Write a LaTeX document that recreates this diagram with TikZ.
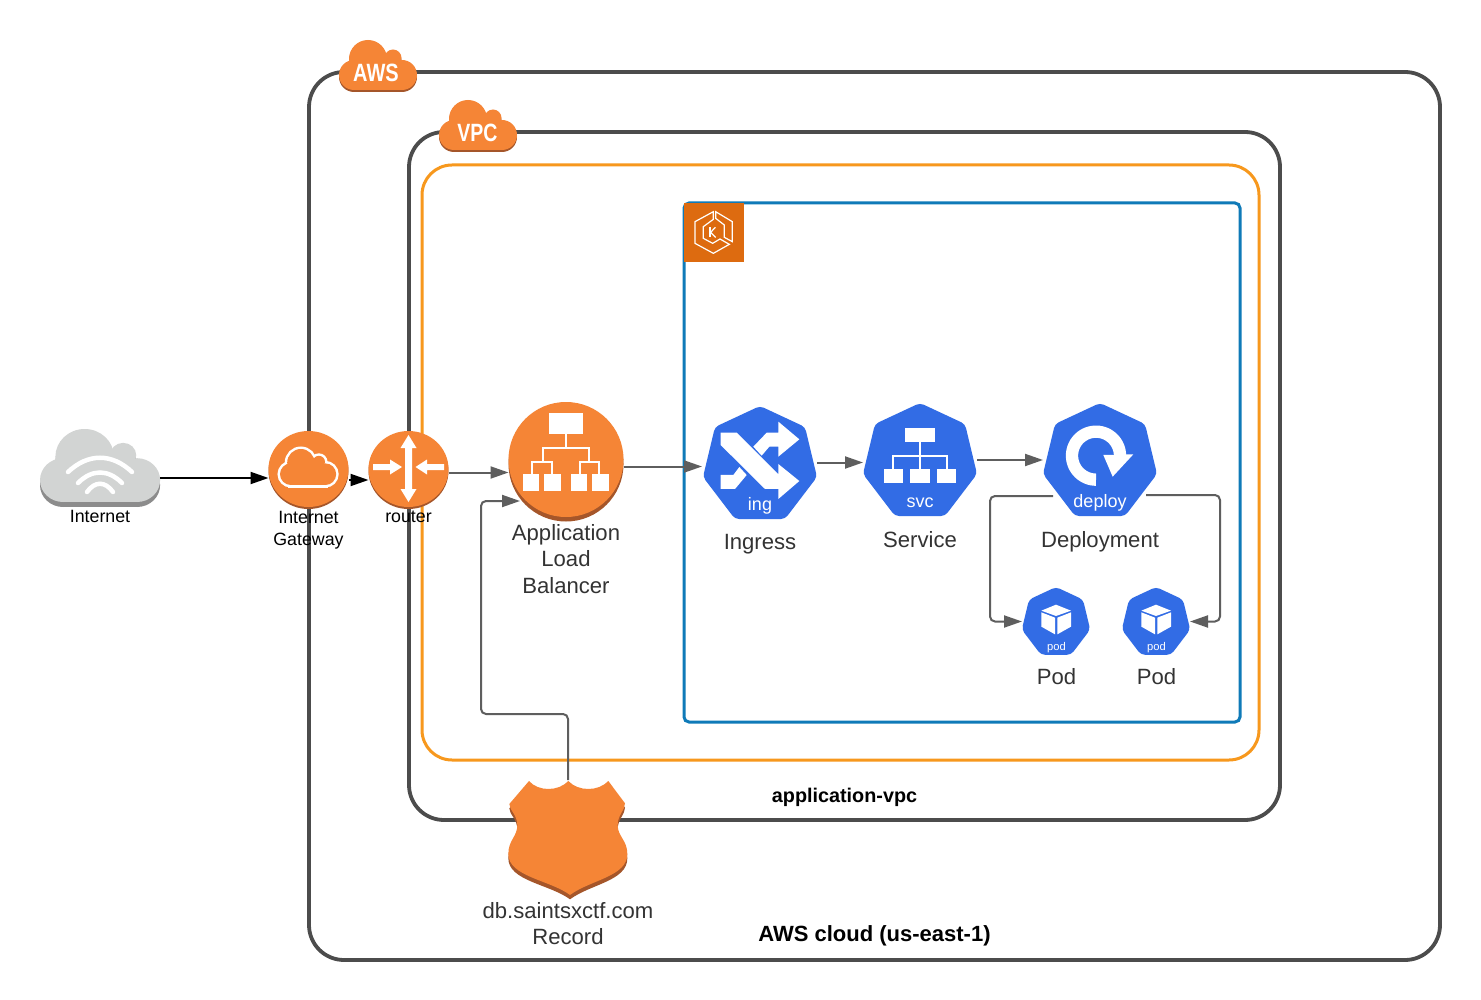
\documentclass[tikz,border=0pt]{standalone}
\usepackage{fontspec}
\usepackage{graphicx}
\setmainfont{Liberation Sans}
\usetikzlibrary{arrows.meta,calc}
\definecolor{frame}{HTML}{4C4C4C}
\definecolor{amber}{HTML}{F7981D}
\definecolor{eksblue}{HTML}{0F7AB8}
\definecolor{eksorange}{HTML}{DD6B10}
\definecolor{awsorange}{HTML}{F58536}
\definecolor{awsshade}{HTML}{A5562A}
\definecolor{kblue}{HTML}{326CE5}
\definecolor{linegray}{HTML}{5E5E5E}
\definecolor{cloudgray}{HTML}{D2D4D3}
\definecolor{cloudshade}{HTML}{8C8C8C}
\definecolor{inktext}{HTML}{333333}
\newcommand\cloudat[4]{\begin{scope}[shift={(#1,#2)},#3]
\fill[#4] (29,19) circle (19);
\fill[#4] (54,18) circle (8.5);
\fill[#4] (63,35) circle (15);
\fill[#4] (15,35) circle (15);
\fill[#4] (15,26) rectangle (63,50);
\fill[#4] (28,14) rectangle (54,30);
\end{scope}}
\newcommand\heptat[3]{\begin{scope}[shift={(#1,#2)},scale=#3]
\fill[kblue,rounded corners=4pt] (0,0) -- (45,21) -- (57,71) -- (25,113) -- (-25,113) -- (-57,71) -- (-45,21) -- cycle;
\end{scope}}
\newcommand\shieldpath{(295,243) .. controls (325,275) and (385,275) .. (415,243) -- (465,310) .. controls (465,330) and (443,345) .. (443,375) .. controls (443,410) and (472,420) .. (472,462) .. controls (472,530) and (360,540) .. (300,585) .. controls (240,540) and (115,530) .. (115,462) .. controls (115,420) and (142,410) .. (142,375) .. controls (142,345) and (118,330) .. (118,312) -- (177,243) .. controls (205,275) and (265,275) .. (295,243) -- cycle}
\newcommand\podicon[1]{\begin{scope}[shift={(#1,570)},scale=1/3]
\fill[white] (184,122) -- (228,104) -- (273,122) -- (228,138) -- cycle;
\fill[white] (184,127) -- (225,143) -- (225,193) -- (184,170) -- cycle;
\fill[white] (232,143) -- (273,127) -- (273,170) -- (232,193) -- cycle;
\end{scope}}
\tikzset{
  x=1pt,y=-1pt,
  box/.style={rounded corners=#1},
  hitbox/.style={inner sep=0pt,outer sep=0pt,minimum width=#1},
  lab/.style={anchor=base,inner sep=0pt,align=center,text=inktext,font=\fontsize{22.1}{26.5}\selectfont},
  smalllab/.style={anchor=base,inner sep=0pt,align=center,text=black,font=\fontsize{17.8}{21.8}\selectfont},
  boldlab/.style={anchor=base,inner sep=0pt,text=black,font=\fontsize{#1}{#1}\selectfont\bfseries},
  inlab/.style={anchor=base,inner sep=0pt,text=white,font=\fontsize{#1}{#1}\selectfont},
  logolab/.style={anchor=base,inner sep=0pt,text=white,font=\fontsize{25}{25}\selectfont\bfseries},
  blackarrow/.style={draw=black,line width=2pt,-{Triangle[length=18pt,width=12pt]}},
  grayarrow/.style={draw=linegray,line width=2pt,-{Triangle[length=18pt,width=12pt]}},
  icon/.style={draw=white,line width=2pt},
}
\begin{document}
\begin{tikzpicture}
\useasboundingbox (0,0) rectangle (1481,1000);
\fill[white] (0,0) rectangle (1481,1000);
% frames
\draw[frame,line width=3.8pt,box=35pt] (309,72) rectangle (1440,960);
\draw[frame,line width=3.8pt,box=35pt] (409,132) rectangle (1280,820);
\draw[amber,line width=3pt,box=30pt] (422,165) rectangle (1259,760);
\draw[eksblue,line width=3pt,box=5pt] (684,203) rectangle (1240,722);
% EKS badge
\fill[eksorange] (684,203) rectangle (743.5,262.5);
\begin{scope}[shift={(670,190)},scale=1/3,draw=white,line width=1.2pt,line join=miter]
\draw (130,65) -- (75,95) -- (75,160) -- (130,190) -- (178,163) -- (150,147) -- (128,160) -- (100,145) -- (100,110) -- (130,88) -- cycle;
\draw (137,65) -- (137,85) -- (163,105) -- (163,142) -- (187,155) -- (187,95) -- cycle;
\draw (120,112) -- (120,142);
\draw (136,112) -- (122,127) -- (137,142);
\end{scope}
% anchors for shapes
\node[hitbox=120pt,minimum height=60pt] (internet) at (100,478) {};
\node[hitbox=80pt,minimum height=76pt] (igw) at (308.5,469) {};
\node[hitbox=80pt,minimum height=76pt] (router) at (408.5,469) {};
\node[hitbox=115pt,minimum height=115pt] (alb) at (566,459.5) {};
\node[hitbox=114pt,minimum height=113pt] (ingress) at (760,462.5) {};
\node[hitbox=114pt,minimum height=114pt] (service) at (920,460) {};
\node[hitbox=114pt,minimum height=114pt] (deploy) at (1100,460) {};
\node[hitbox=68pt,minimum height=69pt] (pod1) at (1056,621.5) {};
\node[hitbox=68pt,minimum height=69pt] (pod2) at (1156,621.5) {};
\node[hitbox=118pt,minimum height=118pt] (record) at (568,839) {};
% connectors
\draw[blackarrow] (internet.east) -- (internet.east -| igw.west);
\draw[blackarrow] ([yshift=-11pt]igw.east) -- ([yshift=-11pt]router.west);
\draw[grayarrow] ([yshift=-3.5pt]router.east) -- ([yshift=-3.5pt]router.east -| alb.west);
\draw[grayarrow,shorten >=1pt] ([yshift=-7pt]alb.east) -- ([yshift=-7pt]alb.east -| ingress.west);
\draw[grayarrow] (ingress.east) -- (ingress.east -| service.west);
\draw[grayarrow] (service.east) -- (deploy.west);
\draw[grayarrow,rounded corners=5pt] ([shift={(-47pt,-36pt)}]deploy.center) -- ++(-63,0) |- (pod1.west);
\draw[grayarrow,rounded corners=5pt] ([shift={(46pt,-35pt)}]deploy.center) -- ++(74,0) |- (pod2.east);
\draw[grayarrow,rounded corners=5pt] (record.north) -- ++(0,-66) -- ++(-87,0) |- ([shift={(-46pt,-41.5pt)}]alb.center);
% AWS and VPC clouds
\cloudat{339}{42}{scale=1}{awsshade}
\cloudat{339}{40}{scale=1}{awsorange}
\cloudat{439}{102}{scale=1}{awsshade}
\cloudat{439}{100}{scale=1}{awsorange}
\node[logolab] (awslogo) at (376,82) {\scalebox{.8}[1]{AWS}};
\node[logolab] (vpclogo) at (477.5,142) {\scalebox{.78}[1]{VPC}};
% Internet cloud
\cloudat{40}{434}{xscale=1.54,yscale=1.46}{cloudshade}
\cloudat{40}{429}{xscale=1.54,yscale=1.46}{cloudgray}
\draw[white,line width=4.5pt,line cap=round] (68,472) .. controls (88,453) and (112,453) .. (132,472);
\draw[white,line width=4.5pt,line cap=round] (78,483) .. controls (92,469) and (108,469) .. (122,483);
\draw[white,line width=4.5pt,line cap=round] (87,492) .. controls (95,481) and (105,481) .. (113,492);
% Gateway
\fill[awsshade] (308.5,471) ellipse [x radius=40,y radius=38];
\fill[awsorange] (308.5,469) ellipse [x radius=40,y radius=38];
\cloudat{280}{449}{scale=.72}{draw=white,fill=white,line width=5pt}
\cloudat{280}{449}{scale=.72}{awsorange}
% Router
\fill[awsshade] (408.5,471) ellipse [x radius=40,y radius=38];
\fill[awsorange] (408.5,469) ellipse [x radius=40,y radius=38];
\fill[white] (408.5,435) -- (416.5,448) -- (412,448) -- (412,489) -- (416.5,489) -- (408.5,502) -- (400.5,489) -- (405,489) -- (405,448) -- (400.5,448) -- cycle;
\fill[white] (373,464) -- (390,464) -- (390,459.5) -- (402,467) -- (390,474.5) -- (390,470) -- (373,470) -- cycle;
\fill[white] (444,464) -- (427,464) -- (427,459.5) -- (415.5,467) -- (427,474.5) -- (427,470) -- (444,470) -- cycle;
% ALB
\fill[awsshade] (566,464) circle (57.5);
\fill[awsorange] (566,459.5) circle (57.5);
\fill[white] (549,413) rectangle (583,434);
\fill[white] (523,474) rectangle (539,491);
\fill[white] (544,474) rectangle (561,491);
\fill[white] (571,474) rectangle (587,491);
\fill[white] (592,474) rectangle (609,491);
\draw[icon] (566,434) -- (566,448);
\draw[icon] (543,462) -- (543,448) -- (589,448) -- (589,462);
\draw[icon] (532,474) -- (532,462) -- (552,462) -- (552,474);
\draw[icon] (580,474) -- (580,462) -- (599,462) -- (599,474);
% Kubernetes shapes
\heptat{760}{406}{1}
\heptat{920}{403}{1}
\heptat{1100}{403}{1}
\heptat{1056}{587}{.6}
\heptat{1156}{587}{.6}
% Ingress icon
\begin{scope}[shift={(470,395)},scale=1/3]
\fill[white] (752,113) -- (800,113) -- (925,238) -- (925,207) -- (988,258) -- (925,312) -- (925,282) -- (885,282) -- (752,150) -- cycle;
\fill[white] (850,155) -- (890,113) -- (925,113) -- (925,80) -- (988,133) -- (925,185) -- (925,155) -- (898,155) -- (875,182) -- cycle;
\fill[white] (752,240) -- (790,240) -- (808,216) -- (830,240) -- (795,282) -- (752,282) -- cycle;
\end{scope}
% Service icon
\begin{scope}[shift={(850,395)},scale=1/3]
\fill[white] (165,98) rectangle (255,140);
\fill[white] (102,222) rectangle (158,263);
\fill[white] (180,222) rectangle (240,263);
\fill[white] (260,222) rectangle (318,263);
\draw[icon] (210,140) -- (210,222);
\draw[icon] (130,222) -- (130,182) -- (290,182) -- (290,222);
\end{scope}
% Deployment icon
\begin{scope}[shift={(850,395)},scale=1/3]
\draw[white,line width=12.3pt] plot[domain=90:360,samples=50,smooth] ({738+72*cos(\x)},{182+72*sin(\x)});
\fill[white] (760,180) -- (850,178) -- (788,245) -- cycle;
\end{scope}
% Pod icons
\podicon{980}
\podicon{1080}
% Shield
\begin{scope}[shift={(470,700)},scale=1/3]
\begin{scope}[yshift=-13pt]
\fill[awsshade] \shieldpath;
\end{scope}
\fill[awsorange] \shieldpath;
\end{scope}
% labels
\node[smalllab] (internetlabel) at (100,522) {Internet};
\node[smalllab,anchor=north] (igwlabel) at (308.5,511) {Internet\\Gateway};
\node[smalllab] (routerlabel) at (408.5,522) {router};
\node[lab,anchor=north] (alblabel) at (566,524) {Application\\Load\\Balancer};
\node[inlab=18] (ingicon) at (760,510) {ing};
\node[inlab=18] (svcicon) at (920,507.5) {svc};
\node[inlab=18] (deployicon) at (1100,507) {deploy};
\node[inlab=11.2] (podicona) at (1056.5,650.5) {pod};
\node[inlab=11.2] (podiconb) at (1156.5,650.5) {pod};
\node[lab] (ingresslabel) at (760,549) {Ingress};
\node[lab] (servicelabel) at (920,547) {Service};
\node[lab] (deploylabel) at (1100,547) {Deployment};
\node[lab] (podlabela) at (1056.5,684) {Pod};
\node[lab] (podlabelb) at (1156.5,684) {Pod};
\node[lab,anchor=north] (recordlabel) at (568,902) {db.saintsxctf.com\\Record};
\node[boldlab=19.8] (vpclabel) at (844.5,802) {application-vpc};
\node[boldlab=22] (awslabel) at (874.5,941) {AWS cloud (us-east-1)};
\end{tikzpicture}
\end{document}
